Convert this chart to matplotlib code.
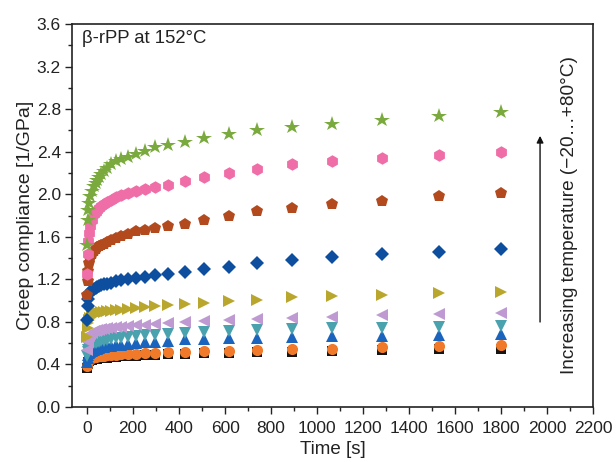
import matplotlib
matplotlib.use("Agg")
import matplotlib.pyplot as plt
from matplotlib.ticker import MultipleLocator, FormatStrFormatter

plt.rcParams['font.family'] = ['Liberation Sans', 'DejaVu Sans']

# time points [s]
time_s = [1, 3, 6, 10, 15, 22, 31, 38, 44, 52, 62, 74, 88, 105, 125, 148, 178, 213, 252,
          296, 352, 425, 510, 615, 740, 890, 1065, 1280, 1530, 1800]

# creep compliance [1/GPa], ordered from lowest to highest temperature
j_black = [0.37, 0.40, 0.42, 0.43, 0.44, 0.445, 0.45, 0.452, 0.455, 0.458, 0.46, 0.463, 0.465,
           0.47, 0.47, 0.475, 0.48, 0.48, 0.485, 0.49, 0.495, 0.50, 0.505, 0.51, 0.515,
           0.52, 0.525, 0.535, 0.545, 0.55]
j_orange = [0.39, 0.42, 0.44, 0.45, 0.46, 0.465, 0.47, 0.472, 0.475, 0.478, 0.48, 0.483, 0.485,
            0.49, 0.49, 0.495, 0.50, 0.50, 0.505, 0.51, 0.515, 0.52, 0.525, 0.53, 0.54,
            0.545, 0.55, 0.56, 0.57, 0.58]
j_blue = [0.42, 0.46, 0.49, 0.51, 0.52, 0.53, 0.54, 0.545, 0.55, 0.555, 0.56, 0.565, 0.57,
          0.575, 0.58, 0.585, 0.59, 0.60, 0.61, 0.615, 0.625, 0.635, 0.64, 0.645, 0.65,
          0.655, 0.665, 0.67, 0.675, 0.685]
j_teal = [0.48, 0.52, 0.54, 0.555, 0.57, 0.585, 0.60, 0.605, 0.61, 0.615, 0.62, 0.625, 0.63,
          0.64, 0.645, 0.65, 0.66, 0.665, 0.675, 0.68, 0.69, 0.70, 0.705, 0.71, 0.72,
          0.73, 0.74, 0.745, 0.75, 0.76]
j_purple = [0.54, 0.61, 0.65, 0.67, 0.69, 0.70, 0.71, 0.715, 0.72, 0.725, 0.73, 0.735, 0.74,
            0.745, 0.75, 0.755, 0.76, 0.77, 0.775, 0.785, 0.79, 0.80, 0.81, 0.82, 0.83,
            0.84, 0.85, 0.865, 0.875, 0.88]
j_olive = [0.66, 0.74, 0.79, 0.82, 0.84, 0.86, 0.87, 0.875, 0.88, 0.885, 0.89, 0.895, 0.90,
           0.905, 0.91, 0.915, 0.925, 0.93, 0.94, 0.95, 0.955, 0.965, 0.98, 1.00, 1.01,
           1.03, 1.04, 1.05, 1.07, 1.08]
j_diamond = [0.82, 0.95, 1.02, 1.06, 1.08, 1.10, 1.11, 1.12, 1.13, 1.14, 1.15, 1.155, 1.16,
             1.17, 1.18, 1.19, 1.20, 1.21, 1.22, 1.24, 1.25, 1.27, 1.30, 1.32, 1.35,
             1.38, 1.41, 1.44, 1.46, 1.49]
j_brown = [1.05, 1.18, 1.28, 1.35, 1.40, 1.44, 1.47, 1.49, 1.50, 1.51, 1.52, 1.535, 1.55,
           1.57, 1.59, 1.61, 1.63, 1.65, 1.66, 1.68, 1.70, 1.72, 1.76, 1.80, 1.84,
           1.87, 1.91, 1.94, 1.98, 2.01]
j_pink = [1.25, 1.44, 1.56, 1.64, 1.70, 1.76, 1.81, 1.83, 1.85, 1.87, 1.89, 1.91, 1.93,
          1.95, 1.97, 1.99, 2.01, 2.03, 2.05, 2.07, 2.09, 2.12, 2.16, 2.20, 2.24,
          2.28, 2.31, 2.34, 2.37, 2.40]
j_star = [1.52, 1.76, 1.85, 1.92, 1.98, 2.03, 2.08, 2.11, 2.13, 2.16, 2.19, 2.22, 2.25,
          2.28, 2.31, 2.33, 2.35, 2.38, 2.41, 2.44, 2.46, 2.49, 2.53, 2.57, 2.60,
          2.63, 2.66, 2.70, 2.74, 2.77]

series = [
    (j_black, 's', '#151515', 7.0),
    (j_orange, 'o', '#f07a2a', 8.0),
    (j_blue, '^', '#1a64be', 9.0),
    (j_teal, 'v', '#4aa2ae', 9.0),
    (j_purple, '<', '#bf9ad2', 9.0),
    (j_olive, '>', '#b9a62c', 9.0),
    (j_diamond, 'D', '#0d4f9e', 7.5),
    (j_brown, 'p', '#b24a1e', 9.0),
    (j_pink, 'h', '#f06ea8', 9.0),
    (j_star, '*', '#7aaa3e', 11.5),
]

fig = plt.figure(figsize=(6.16, 4.62), dpi=100)
ax = fig.add_axes([0.117, 0.119, 0.846, 0.829])

for vals, mk, col, ms in series:
    ax.plot(time_s, vals, linestyle='none', marker=mk, color=col,
            markersize=ms, markeredgewidth=0)

ax.set_xlim(-65, 2200)
ax.set_ylim(0.0, 3.6)
ax.xaxis.set_major_locator(MultipleLocator(200))
ax.xaxis.set_minor_locator(MultipleLocator(100))
ax.yaxis.set_major_locator(MultipleLocator(0.4))
ax.yaxis.set_minor_locator(MultipleLocator(0.2))
ax.yaxis.set_major_formatter(FormatStrFormatter('%.1f'))

ax.tick_params(axis='both', which='major', direction='out', length=5, width=1.0,
               labelsize=12.5, colors='#222222', pad=3)
ax.tick_params(axis='x', which='major', pad=5)
ax.tick_params(axis='both', which='minor', direction='out', length=3, width=1.0,
               colors='#222222')
ax.tick_params(top=False, right=False, which='both')
for sp in ax.spines.values():
    sp.set_linewidth(1.2)
    sp.set_color('#222222')

ax.set_xlabel('Time [s]', fontsize=13.5, color='#222222', labelpad=4)
ax.set_ylabel('Creep compliance [1/GPa]', fontsize=14, color='#222222', labelpad=2)

ax.text(0.02, 0.985, 'β-rPP at 152°C', transform=ax.transAxes, ha='left', va='top',
        fontsize=13.3, color='#222222')

ax.annotate('', xy=(0.898, 0.708), xytext=(0.898, 0.222), xycoords='axes fraction',
            arrowprops=dict(arrowstyle='-|>', color='#111111', lw=1.0,
                            mutation_scale=10, shrinkA=0, shrinkB=0))
ax.text(0.954, 0.50, 'Increasing temperature (\u221220\u2026+80°C)', transform=ax.transAxes,
        rotation=90, ha='center', va='center', fontsize=13.7, color='#222222')

fig.savefig('out.png', dpi=100)
